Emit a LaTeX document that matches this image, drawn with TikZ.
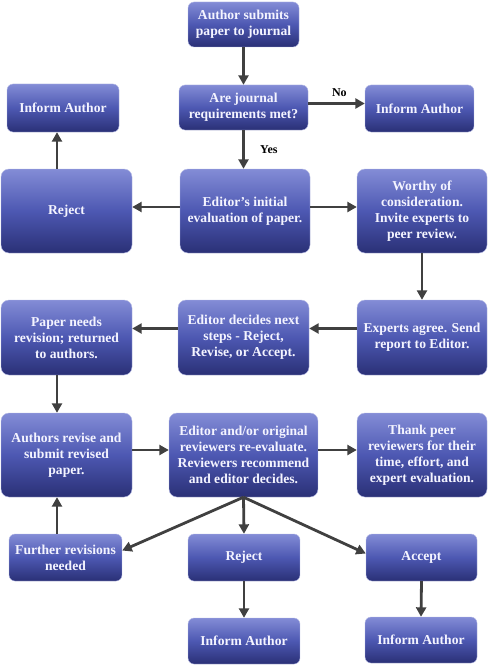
\documentclass[tikz,border=0pt]{standalone}
\usepackage{fontspec}
\setmainfont{Liberation Serif}
\usetikzlibrary{arrows.meta,shadings}
\definecolor{boxtop}{HTML}{838CD6}
\definecolor{boxmid}{HTML}{4D58B2}
\definecolor{boxbot}{HTML}{2A3076}
\definecolor{arrcol}{HTML}{404040}
\definecolor{txtcol}{HTML}{F4F4FF}
\tikzset{
  box/.style={rounded corners=8pt, top color=boxtop, bottom color=boxbot, middle color=boxmid,
    text=txtcol, font=\bfseries\fontsize{13.6}{16}\selectfont, align=center, inner sep=1pt,
    draw=boxtop!60!white, line width=0.4pt},
  sbox/.style={box, rounded corners=6pt},
  arr/.style={draw=arrcol, line width=2.8pt, -{Triangle[length=9.5pt,width=10pt]}},
  lbl/.style={font=\bfseries\fontsize{12}{14}\selectfont, text=black}
}
\begin{document}
\begin{tikzpicture}[x=1pt,y=-1pt]
\useasboundingbox[fill=white] (0,0) rectangle (489,666);
% row 0/1
\node[sbox, minimum width=111, minimum height=45] (a1) at (243.5,24.5) {Author submits\\paper to journal};
\node[sbox, minimum width=129, minimum height=45] (a2) at (243.5,107.5) {Are journal\\requirements met?};
\node[sbox, minimum width=112, minimum height=48] (ia1) at (63,108) {Inform Author};
\node[sbox, minimum width=109, minimum height=47] (ia2) at (419.5,108.5) {Inform Author};
% row 2
\node[box, minimum width=131, minimum height=84] (rej) at (66.5,211) {Reject};
\node[box, minimum width=130, minimum height=84] (eval) at (245,211) {Editor's initial\\evaluation of paper.};
\node[box, minimum width=130, minimum height=84] (worthy) at (422,211) {Worthy of\\consideration.\\Invite experts to\\peer review.};
% row 3
\node[box, minimum width=131, minimum height=75] (needs) at (66.5,337.5) {Paper needs\\revision; returned\\to authors.};
\node[box, minimum width=131, minimum height=75] (decides) at (243.5,337.5) {Editor decides next\\steps - Reject,\\Revise, or Accept.};
\node[box, minimum width=130, minimum height=75] (experts) at (422,337.5) {Experts agree. Send\\report to Editor.};
% row 4
\node[box, minimum width=131, minimum height=84] (authors) at (66.5,455) {Authors revise and\\submit revised\\paper.};
\node[box, minimum width=149, minimum height=84] (edit2) at (243.5,455) {Editor and/or original\\reviewers re-evaluate.\\Reviewers recommend\\and editor decides.};
\node[box, minimum width=130, minimum height=84] (thank) at (422,455) {Thank peer\\reviewers for their\\time, effort, and\\expert evaluation.};
% row 5
\node[sbox, minimum width=113, minimum height=47] (further) at (65.5,557.5) {Further revisions\\needed};
\node[sbox, minimum width=112, minimum height=47] (rej2) at (244,557.5) {Reject};
\node[sbox, minimum width=111, minimum height=47] (acc) at (421.5,557.5) {Accept};
% row 6
\node[sbox, minimum width=112, minimum height=46] (ia3) at (244,641) {Inform Author};
\node[sbox, minimum width=112, minimum height=46] (ia4) at (421,640) {Inform Author};
% arrows
\draw[arr] (a1.south) -- (a2.north);
\draw[arr] (a2.south) -- node[lbl, right=12pt, pos=0.5] {Yes} (eval.north -| a2.south);
\draw[arr] ([yshift=4pt]a2.east) -- node[lbl, above=2pt, pos=0.55] {No} ([yshift=4pt]a2.east -| ia2.west);
\draw[arr] ([xshift=-9.5pt]rej.north) -- ([xshift=-9.5pt]rej.north |- ia1.south);
\draw[arr] ([yshift=4pt]eval.west) -- ([yshift=4pt]eval.west -| rej.east);
\draw[arr] ([yshift=4pt]eval.east) -- ([yshift=4pt]eval.east -| worthy.west);
\draw[arr] (worthy.south) -- (experts.north);
\draw[arr] ([yshift=9pt]experts.west) -- ([yshift=9pt]experts.west -| decides.east);
\draw[arr] ([yshift=9pt]decides.west) -- ([yshift=9pt]decides.west -| needs.east);
\draw[arr] ([xshift=-9.5pt]needs.south) -- ([xshift=-9.5pt]needs.south |- authors.north);
\draw[arr] ([yshift=5pt]authors.east) -- ([yshift=5pt]authors.east -| edit2.west);
\draw[arr] ([yshift=5pt]edit2.east) -- ([yshift=5pt]edit2.east -| thank.west);
\draw[arr] ([xshift=-8.5pt]further.north) -- ([xshift=-8.5pt]further.north |- authors.south);
\draw[arr] (edit2.south) -- ([yshift=7pt]further.east);
\draw[arr] (edit2.south) -- (rej2.north);
\draw[arr] (edit2.south) -- ([yshift=4pt]acc.west);
\draw[arr] (rej2.south) -- (ia3.north);
\draw[arr] (acc.south) -- (ia4.north);
\end{tikzpicture}
\end{document}
